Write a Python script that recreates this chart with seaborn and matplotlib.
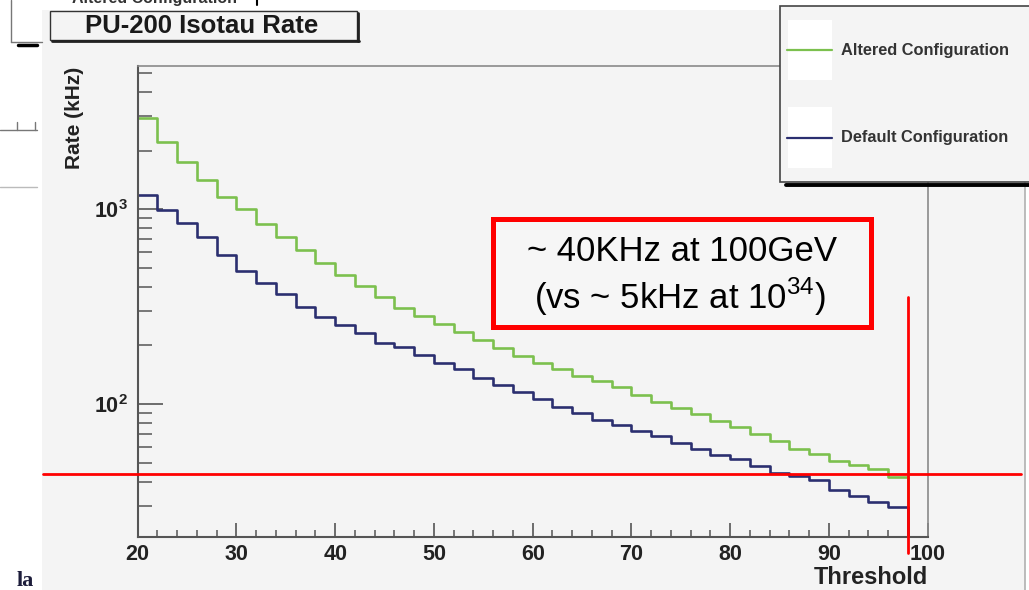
"""PU-200 Isotau rate: trigger rate vs threshold, ROOT-style step histograms."""
import matplotlib
matplotlib.use('Agg')
import matplotlib.pyplot as plt
from matplotlib.patches import Rectangle
from matplotlib.lines import Line2D
from matplotlib.ticker import MultipleLocator, FixedLocator, FixedFormatter, LogLocator, NullFormatter
import numpy as np
import pandas as pd
import seaborn as sns

# histogram bins (GeV), width 2 from 20 to 100
bin_edges = list(range(20, 101, 2))

# rates (kHz) read per bin, last bin empty
altered_rate = [2930, 2210, 1740, 1410, 1160, 1000, 841, 718, 618, 528,
                460, 404, 354, 311, 284, 258, 235, 214, 194, 177,
                163, 151, 140, 131, 122, 112, 103, 95.7, 89.2, 82.1,
                76.5, 70.4, 64.5, 59.0, 55.6, 51.4, 48.8, 46.4, 42.2, 0]
default_rate = [1188, 992, 851, 717, 583, 485, 417, 368, 317, 281,
                255, 231, 207, 196, 179, 163, 152, 137, 125, 116,
                106, 97.2, 89.9, 83.1, 78.3, 72.9, 68.8, 63.3, 59.0, 55.0,
                52.4, 48.3, 44.4, 42.6, 40.6, 36.3, 33.9, 31.6, 29.8, 0]

series_names = ['Altered Configuration', 'Default Configuration']
series_colors = ['#7cc04e', '#2b2f70']

x_major = [20, 30, 40, 50, 60, 70, 80, 90, 100]
y_major = [100, 1000]
y_labels = [r'$\mathbf{10^{2}}$', r'$\mathbf{10^{3}}$']

title_text = 'PU-200 Isotau Rate'
note_lines = ['~ 40KHz at 100GeV', r'(vs ~ 5kHz at 10$^{34}$)']

# long table, last edge repeats the last bin so the step closes at 100
rows = []
for name, rates in zip(series_names, [altered_rate, default_rate]):
    for x, r in zip(bin_edges, rates + [rates[-1]]):
        rows.append({'Threshold': x, 'Rate': r, 'Configuration': name})
df = pd.DataFrame(rows)

sns.set_theme(style='ticks')
plt.rcParams['font.family'] = ['Liberation Sans', 'DejaVu Sans']
plt.rcParams['mathtext.fontset'] = 'custom'
plt.rcParams['mathtext.rm'] = 'Liberation Sans'
plt.rcParams['mathtext.bf'] = 'Liberation Sans:bold'

W, H = 1029, 590
fig = plt.figure(figsize=(W / 100, H / 100), dpi=100, facecolor='white')


def fx(px):
    return px / W


def fy(py):
    return 1 - py / H


def frect(x0, y0, x1, y1, **kw):
    r = Rectangle((fx(x0), fy(y1)), fx(x1) - fx(x0), fy(y0) - fy(y1),
                  transform=fig.transFigure, **kw)
    fig.add_artist(r)
    return r


def fline(xs, ys, **kw):
    ln = Line2D([fx(v) for v in xs], [fy(v) for v in ys], transform=fig.transFigure, **kw)
    fig.add_artist(ln)
    return ln


# grey ROOT canvas
frect(42, 10, 1025, 592, facecolor='#f4f4f4', edgecolor='none', zorder=-10)
fline([1025, 1025], [10, 590], color='#b0b0b0', lw=1.2, zorder=-9)

# bits of the slide behind (cut off at the top like in the screenshot)
fline([11, 11], [0, 42], color='#777777', lw=1)
fline([11, 42], [42, 42], color='#777777', lw=1)
fline([18, 37], [45, 45], color='black', lw=2.5)
fline([257, 257], [0, 5], color='black', lw=1.5)
fig.text(fx(72), fy(-2), 'Altered Configuration', fontsize=11.5, fontweight='bold',
         color='#333333', va='center', ha='left')
fline([0, 37], [130, 130], color='#777777', lw=1)
fline([17, 17], [122, 130], color='#777777', lw=1)
fline([35, 35], [122, 130], color='#777777', lw=1)
fline([0, 37], [187, 187], color='#bbbbbb', lw=1)
fig.text(fx(17), fy(586), 'la', fontsize=16, fontweight='bold', color='#1c1c3a',
         family=['Liberation Serif', 'DejaVu Serif'], va='baseline', ha='left')

# main axes
ax = fig.add_axes([fx(137.7), fy(536.7), fx(927.7) - fx(137.7), fy(65.7) - fy(536.7)])
ax.set_facecolor('none')
sns.lineplot(data=df, x='Threshold', y='Rate', hue='Configuration',
             palette=dict(zip(series_names, series_colors)), hue_order=series_names,
             estimator=None, drawstyle='steps-post', linewidth=1.9, legend=False, ax=ax)
ax.set_yscale('log')
ax.set_xlim(20, 100)
ax.set_ylim(20.9, 5450)
ax.set_xlabel('')
ax.set_ylabel('')

for side in ['left', 'bottom']:
    ax.spines[side].set_color('#555555')
    ax.spines[side].set_linewidth(1.5)
for side in ['top', 'right']:
    ax.spines[side].set_color('#8a8a8a')
    ax.spines[side].set_linewidth(1.2)

ax.xaxis.set_major_locator(FixedLocator(x_major))
ax.xaxis.set_minor_locator(MultipleLocator(2))
ax.yaxis.set_major_locator(FixedLocator(y_major))
ax.yaxis.set_major_formatter(FixedFormatter(y_labels))
ax.yaxis.set_minor_locator(LogLocator(base=10, subs=np.arange(2, 10)))
ax.yaxis.set_minor_formatter(NullFormatter())
ax.tick_params(axis='x', which='major', direction='in', length=10, width=1.2,
               color='#555555', pad=5, labelsize=15.5, labelcolor='#222222')
ax.tick_params(axis='x', which='minor', direction='in', length=5, width=1.1, color='#555555')
ax.tick_params(axis='y', which='major', direction='in', length=18, width=1.2,
               color='#555555', pad=7, labelsize=15.5, labelcolor='#222222')
ax.tick_params(axis='y', which='minor', direction='in', length=10, width=1.1, color='#555555')
for lab in ax.get_xticklabels():
    lab.set_fontweight('bold')

fig.text(fx(928), fy(577), 'Threshold', fontsize=17, fontweight='bold',
         color='#222222', ha='right', va='center')
fig.text(fx(75), fy(118), 'Rate (kHz)', fontsize=15, fontweight='bold',
         color='#222222', ha='center', va='center', rotation=90)

# title box with shadow
frect(50, 11, 357, 40, facecolor='#f4f4f4', edgecolor='#333333', lw=1, zorder=2)
fline([52, 359], [41, 41], color='#222222', lw=2, zorder=3)
fline([358, 358], [13, 41], color='#222222', lw=2, zorder=3)
fig.text(fx(202), fy(26), title_text, fontsize=18.5, fontweight='bold',
         color='#1a1a1a', ha='center', va='center', zorder=4)

# legend box
frect(780, 6, 1040, 182, facecolor='#f4f4f4', edgecolor='#444444', lw=1.2, zorder=2)
fline([786, 1029], [184.5, 184.5], color='black', lw=2.8, zorder=3)
for (y0, y1), name, col in zip([(20, 80), (107, 168)], series_names, series_colors):
    frect(788, y0, 832, y1, facecolor='white', edgecolor='none', zorder=3)
    ym = (y0 + y1) / 2
    fline([787, 832], [ym, ym], color=col, lw=1.6, zorder=4)
    fig.text(fx(841), fy(ym), name, fontsize=11.8, fontweight='bold',
             color='#333333', ha='left', va='center', zorder=4)

# red annotation
frect(492.5, 218.5, 870.5, 326.5, facecolor='#f6f6f6', edgecolor='#ff0000',
      lw=3.6, joinstyle='miter', zorder=5)
fig.text(fx(682), fy(252), note_lines[0], fontsize=25, color='black',
         ha='center', va='center', zorder=6)
fig.text(fx(680), fy(297), note_lines[1], fontsize=25, color='black',
         ha='center', va='center', zorder=6)
fline([43, 1021], [474, 474], color='#ff0000', lw=2, zorder=10)
fline([908, 908], [297, 553], color='#ff0000', lw=2, zorder=10)

fig.savefig('out.png', dpi=100)
